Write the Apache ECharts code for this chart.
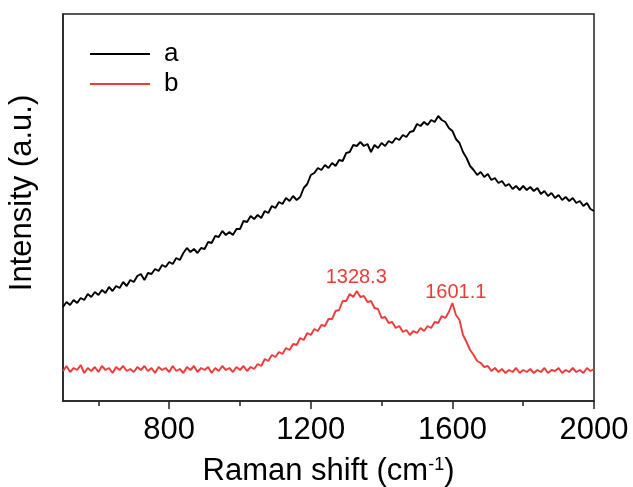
<!DOCTYPE html>
<html>
<head>
<meta charset="utf-8">
<script src="https://cdn.jsdelivr.net/npm/echarts@6/dist/echarts.min.js"></script>
<style>
    html, body {margin: 0; padding: 0; background: #fff;}
    #ramanChart {width: 633px; height: 487px;}
</style>
</head>
<body>
<div id="ramanChart"></div>
<script>
    // Raman shift, every 10 cm-1 from 500 to 2000
    var ramanShift = [];
    for (var s = 500; s <= 2000; s += 10) {
        ramanShift.push(s);
    }
    // sample a (black)
    var intensityA = [
        94, 99, 96, 101, 98, 103, 101, 107, 104, 109,
        106, 111, 108, 114, 110, 115, 113, 119, 115, 121,
        119, 125, 127, 121, 128, 127, 132, 130, 136, 134,
        139, 137, 143, 141, 148, 153, 149, 152, 148, 153,
        152, 159, 158, 165, 164, 170, 166, 169, 166, 172,
        172, 180, 179, 185, 182, 186, 183, 190, 188, 195,
        193, 199, 197, 203, 200, 205, 201, 204, 213, 217,
        226, 228, 233, 231, 236, 233, 238, 235, 241, 240,
        248, 249, 256, 255, 259, 255, 257, 249, 256, 253,
        258, 255, 260, 258, 263, 261, 266, 264, 269, 270,
        277, 275, 279, 276, 281, 279, 285, 281, 279, 273,
        270, 262, 258, 249, 243, 235, 231, 226, 229, 224,
        227, 221, 223, 218, 220, 215, 217, 212, 215, 211,
        215, 211, 214, 210, 213, 207, 210, 205, 208, 203,
        206, 201, 204, 200, 203, 198, 200, 195, 198, 192,
        190
    ];
    // sample b (red)
    var intensityB = [
        30, 35, 29, 33, 31, 36, 28, 33, 30, 34,
        29, 35, 31, 33, 28, 34, 31, 35, 30, 32,
        29, 34, 31, 35, 30, 33, 28, 34, 31, 33,
        29, 35, 30, 32, 28, 34, 31, 35, 29, 33,
        31, 34, 28, 33, 30, 35, 31, 33, 29, 34,
        31, 35, 30, 34, 32, 37, 35, 42, 40, 46,
        44, 49, 47, 53, 51, 57, 56, 63, 61, 68,
        66, 72, 70, 76, 75, 82, 82, 90, 91, 100,
        100, 107, 104, 110, 104, 105, 99, 100, 93, 92,
        83, 84, 78, 79, 73, 75, 69, 71, 66, 70,
        68, 73, 70, 75, 73, 79, 78, 85, 83, 89,
        98, 86, 81, 66, 59, 51, 46, 40, 38, 34,
        35, 30, 33, 29, 32, 28, 31, 29, 33, 28,
        31, 29, 32, 28, 31, 29, 33, 28, 31, 30,
        33, 28, 31, 29, 33, 29, 31, 28, 33, 30,
        32
    ];
    var peakShift = [1328.3, 1601.1];
    var peakIntensity = [110, 98];
    var majorTicks = [800, 1200, 1600, 2000];
    var minorTicks = [600, 1000, 1400, 1800];

    var dataA = [], dataB = [];
    for (var i = 0; i < ramanShift.length; i++) {
        dataA.push([ramanShift[i], intensityA[i]]);
        dataB.push([ramanShift[i], intensityB[i]]);
    }

    var font = 'Liberation Sans, Arial, sans-serif';
    var axisColor = '#222';
    var red = '#ee3a3a';

    var ramanChart = echarts.init(document.getElementById('ramanChart'));
    var option = {
        animation: false,
        backgroundColor: '#fff',
        grid: {left: 63, right: 39, top: 14, bottom: 86, show: true, borderColor: axisColor, borderWidth: 1.5,
            containLabel: false, outerBoundsMode: 'none'},
        legend: {
            orient: 'vertical', left: 90, top: 41, padding: 0, icon: 'rect',
            itemWidth: 60, itemHeight: 2, itemGap: 4,
            textStyle: {fontFamily: font, fontSize: 26, color: '#000', padding: [0, 0, 0, 9]},
            data: ['a', 'b']
        },
        xAxis: [{
            type: 'value', min: 500, max: 2000,
            name: 'Raman shift (cm{sup|-1})', nameLocation: 'middle', nameGap: 55,
            nameTextStyle: {fontFamily: font, fontSize: 31, color: '#000',
                rich: {sup: {fontFamily: font, fontSize: 18, color: '#000', verticalAlign: 'top'}}},
            axisLine: {lineStyle: {color: axisColor, width: 1.5}},
            axisTick: {show: true, inside: false, length: 8, customValues: majorTicks, lineStyle: {color: axisColor, width: 1.5}},
            axisLabel: {customValues: majorTicks, fontFamily: font, fontSize: 31, color: '#000', margin: 14,
                formatter: function (v) { return String(v); }},
            splitLine: {show: false}
        }, {
            type: 'value', min: 500, max: 2000, position: 'bottom',
            axisLine: {show: false},
            axisTick: {show: true, inside: false, length: 5, customValues: minorTicks, lineStyle: {color: axisColor, width: 1.5}},
            axisLabel: {show: false},
            splitLine: {show: false}
        }],
        yAxis: {
            type: 'value', min: 0, max: 387,
            name: 'Intensity (a.u.)', nameLocation: 'middle', nameGap: 25,
            nameTextStyle: {fontFamily: font, fontSize: 31, color: '#000', padding: [0, 0, 0, 29]},
            axisLine: {show: true, lineStyle: {color: axisColor, width: 1.5}},
            axisTick: {show: false},
            axisLabel: {show: false},
            splitLine: {show: false}
        },
        series: [{
            name: 'a', type: 'line', data: dataA, symbol: 'none', showSymbol: false,
            color: '#000', lineStyle: {color: '#000', width: 1.9}
        }, {
            name: 'b', type: 'line', data: dataB, symbol: 'none', showSymbol: false,
            color: red, lineStyle: {color: red, width: 1.9},
            markPoint: {
                symbol: 'circle', symbolSize: 0,
                label: {show: true, position: 'top', color: red, fontFamily: font, fontSize: 20,
                    formatter: function (p) { return p.data.coord[0].toFixed(1); }},
                data: [
                    {coord: [peakShift[0], peakIntensity[0]], label: {distance: 4}},
                    {coord: [peakShift[1], peakIntensity[1]], label: {distance: 1, offset: [3, 0]}}
                ]
            }
        }]
    };
    ramanChart.setOption(option);
</script>
</body>
</html>
